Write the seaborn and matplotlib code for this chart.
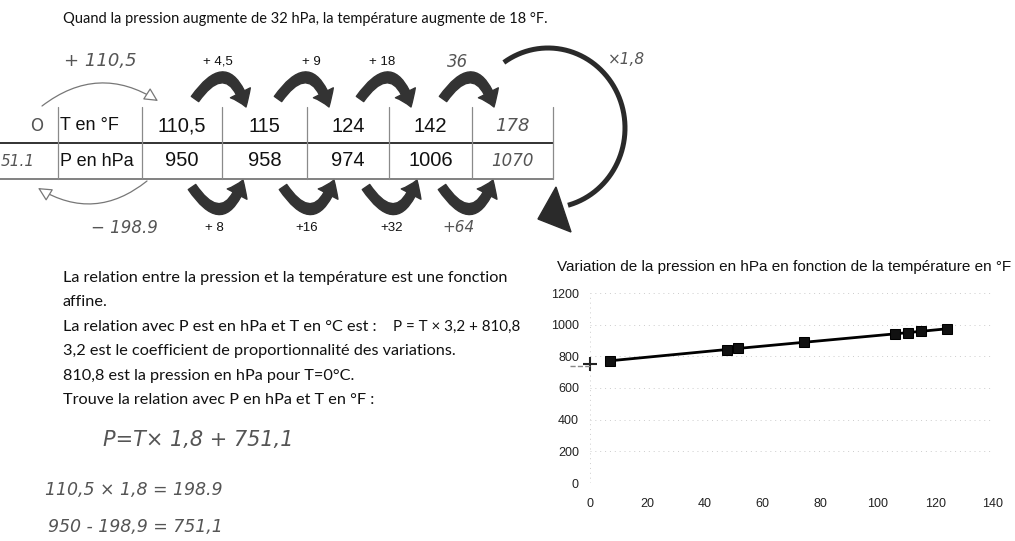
import numpy as np
import matplotlib
matplotlib.use("Agg")
import matplotlib.pyplot as plt
from matplotlib.patches import FancyArrowPatch, Polygon
import seaborn as sns

# ---------------- data ----------------
temp_F_table = ["110,5", "115", "124", "142"]
press_table = ["950", "958", "974", "1006"]
temp_F_hand = "178"
press_hand = "1070"
top_steps = ["+ 4,5", "+ 9", "+ 18"]
bottom_steps = ["+ 8", "+16", "+32"]
hand_top_step = "36"
hand_bottom_step = "+64"

chart_temp_F = [7, 47.5, 51.5, 74.5, 106, 110.5, 115, 124]
chart_press = [772, 843, 850, 889, 942, 950, 958, 974]
intercept = 751.1
x_ticks = [0, 20, 40, 60, 80, 100, 120, 140]
y_ticks = [0, 200, 400, 600, 800, 1000, 1200]

sns.set_theme(style="white")
plt.rcParams["font.family"] = ["Lato", "DejaVu Sans"]

W, H = 1015, 541
fig = plt.figure(figsize=(W / 100, H / 100), dpi=100)
fig.patch.set_facecolor("white")
ax0 = fig.add_axes([0, 0, 1, 1])
ax0.set_xlim(0, W)
ax0.set_ylim(H, 0)
ax0.axis("off")

INK = "#111111"
HAND = "#555555"
hand_font = dict(family="DejaVu Sans", style="italic", color=HAND)
table_font = dict(family="Liberation Sans", color=INK)

# top sentence
ax0.text(63, 19, "Quand la pression augmente de 32 hPa, la température augmente de 18 °F.",
         fontsize=10.5, color=INK, ha="left", va="center")

# ---------------- table ----------------
cols = [58, 142, 222, 307, 389, 472, 553]
y_top, y_mid, y_bot = 107, 143, 179
ax0.plot([0, cols[-1]], [y_mid, y_mid], color="#222222", lw=1.3)
ax0.plot([0, cols[-1]], [y_bot, y_bot], color="#777777", lw=1.3)
for c in cols:
    ax0.plot([c, c], [y_top, y_bot], color="#8a8a8a", lw=0.9)
r1, r2 = 126, 161
ax0.text(60, r1, "T en °F", fontsize=13, ha="left", va="center", **table_font)
ax0.text(60, r2, "P en hPa", fontsize=13, ha="left", va="center", **table_font)
for i, (t, p) in enumerate(zip(temp_F_table, press_table)):
    cx = (cols[i + 1] + cols[i + 2]) / 2
    ax0.text(cx, r1, t, fontsize=14.5, ha="center", va="center", **table_font)
    ax0.text(cx, r2, p, fontsize=14.5, ha="center", va="center", **table_font)
cx_last = (cols[5] + cols[6]) / 2
ax0.text(cx_last, r1, temp_F_hand, fontsize=13, ha="center", va="center", **hand_font)
ax0.text(cx_last, r2, press_hand, fontsize=12, ha="center", va="center", **hand_font)
ax0.text(37, r1, "O", fontsize=12, ha="center", va="center", family="DejaVu Sans", color=HAND)
ax0.text(1, r2, "51.1", fontsize=11, ha="left", va="center", **hand_font)

# ---------------- curved step arrows ----------------
ARROW = "#333333"
style = "simple,head_width=1.6,head_length=1.1,tail_width=0.65"
top_starts = [195, 278, 360, 443]
for i, x0 in enumerate(top_starts):
    a = FancyArrowPatch((x0, 99), (x0 + 51, 107), connectionstyle="arc3,rad=-1.0",
                        arrowstyle=style, mutation_scale=10, color=ARROW,
                        shrinkA=0, shrinkB=0)
    ax0.add_patch(a)
bot_starts = [192, 283, 366, 442]
for i, x0 in enumerate(bot_starts):
    a = FancyArrowPatch((x0, 187), (x0 + 51, 180), connectionstyle="arc3,rad=1.0",
                        arrowstyle=style, mutation_scale=10, color=ARROW,
                        shrinkA=0, shrinkB=0)
    ax0.add_patch(a)

for lab, x in zip(top_steps, [218, 311, 382]):
    ax0.text(x, 62, lab, fontsize=9.5, ha="center", va="center",
             family="Liberation Sans", color=INK)
for lab, x in zip(bottom_steps, [214, 307, 392]):
    ax0.text(x, 228, lab, fontsize=9.5, ha="center", va="center",
             family="Liberation Sans", color=INK)
ax0.text(458, 62, hand_top_step, fontsize=12, ha="center", va="center", **hand_font)
ax0.text(459, 227, hand_bottom_step, fontsize=11, ha="center", va="center", **hand_font)

# handwritten side arrows
ax0.text(100, 61, "+ 110,5", fontsize=13, ha="center", va="center", **hand_font)
ax0.text(124, 228, "− 198.9", fontsize=12, ha="center", va="center", **hand_font)
ax0.add_patch(FancyArrowPatch((42, 106), (158, 101), connectionstyle="arc3,rad=-0.35",
                              arrowstyle="-|>,head_width=0.35,head_length=0.7",
                              mutation_scale=12, lw=0.9, ec="#777777", fc="white",
                              shrinkA=0, shrinkB=0))
ax0.add_patch(FancyArrowPatch((147, 181), (38, 188), connectionstyle="arc3,rad=-0.35",
                              arrowstyle="-|>,head_width=0.35,head_length=0.7",
                              mutation_scale=12, lw=0.9, ec="#777777", fc="white",
                              shrinkA=0, shrinkB=0))

# big x1,8 arc arrow
t = np.radians(np.linspace(125, -75, 200))
cxa, cya, rx, ry = 548, 128, 77, 80
ax0.plot(cxa + rx * np.cos(t), cya - ry * np.sin(t), color="#2a2a2a", lw=3.6,
         solid_capstyle="butt")
ax0.add_patch(Polygon([[538, 219], [556, 187], [571, 232]], closed=True,
                      color="#2a2a2a"))
ax0.text(626, 60, "×1,8", fontsize=11, ha="center", va="center", **hand_font)

# ---------------- text block ----------------
lines = [
    "La relation entre la pression et la température est une fonction",
    "affine.",
    "La relation avec P est en hPa et T en °C est :",
    "3,2 est le coefficient de proportionnalité des variations.",
    "810,8 est la pression en hPa pour T=0°C.",
    "Trouve la relation avec P en hPa et T en °F :",
]
ys = [278, 302, 327, 351, 376, 400]
for s, y in zip(lines, ys):
    ax0.text(63, y, s, fontsize=11.7, color=INK, ha="left", va="center")
ax0.text(393, 327, "P = T × 3,2 + 810,8", fontsize=10.9, color=INK, ha="left", va="center")

ax0.text(103, 440, "P=T× 1,8 + 751,1", fontsize=15, ha="left", va="center", **hand_font)
ax0.text(45, 490, "110,5 × 1,8 = 198.9", fontsize=12.5, ha="left", va="center", **hand_font)
ax0.text(48, 527, "950 - 198,9 = 751,1", fontsize=12.5, ha="left", va="center", **hand_font)

# ---------------- chart ----------------
ax0.text(557, 267, "Variation de la pression en hPa en fonction de la température en °F",
         fontsize=11, family="Liberation Sans", color=INK, ha="left", va="center")

x0p, x1p, y0p, y1p = 590, 993, 483, 293
ax = fig.add_axes([x0p / W, (H - y0p) / H, (x1p - x0p) / W, (y0p - y1p) / H])
ax.set_facecolor("none")
sns.lineplot(x=chart_temp_F, y=chart_press, ax=ax, color="black", linewidth=2,
             marker="s", markersize=6.5, markeredgecolor="black", markerfacecolor="#111111")
ax.plot([0], [intercept], marker="+", markersize=10, mew=1.5, color="#222222", clip_on=False)
ax.plot([-7, 0], [intercept - 10, intercept - 10], ls="--", lw=1, color="#888888", clip_on=False)
ax.set_xlim(0, 140)
ax.set_ylim(0, 1200)
ax.set_xticks(x_ticks)
ax.set_yticks(y_ticks)
for yv in y_ticks:
    ax.axhline(yv, color="#cccccc", lw=0.7, ls=(0, (1, 4)), zorder=0)
ax.axvline(0, color="#cccccc", lw=0.7, ls=(0, (1, 4)), zorder=0)
for sp in ax.spines.values():
    sp.set_visible(False)
ax.tick_params(axis="y", length=0, labelsize=9, colors="#222222", pad=8)
ax.tick_params(axis="x", length=0, labelsize=9, colors="#222222", pad=11)
for lbl in ax.get_xticklabels() + ax.get_yticklabels():
    lbl.set_family("Liberation Sans")
ax.set_xlabel("")
ax.set_ylabel("")
ax.grid(False)

fig.savefig("out.png", dpi=100)
